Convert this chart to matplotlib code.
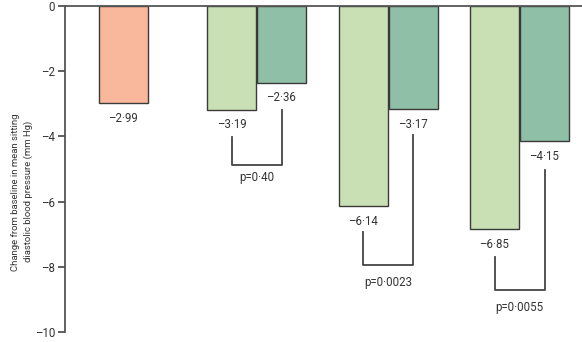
import matplotlib.pyplot as plt

# values (mm Hg)
ref_value = -2.99
low_values = [-3.19, -6.14, -6.85]
high_values = [-2.36, -3.17, -4.15]
p_labels = ["p=0·40", "p=0·0023", "p=0·0055"]
# bracket geometry (y levels in data units)
left_tops = [-4.02, -6.93, -7.70]
right_tops = [-3.19, -3.96, -5.03]
bracket_bottoms = [-4.88, -7.94, -8.71]
p_label_y = [-5.25, -8.47, -9.26]
yticks = [0, -2, -4, -6, -8, -10]


def fmt(v):
    return "\u2013" + ("%.2f" % abs(v)).replace(".", "\u00b7")


plt.rcParams['font.family'] = ['Roboto', 'DejaVu Sans']

fig = plt.figure(figsize=(5.82, 3.42), dpi=100)
ax = fig.add_axes([65 / 582, 10 / 342, 517 / 582, 326 / 342])

w = 0.98
salmon = "#f9b89b"
light = "#c9e0b4"
dark = "#8fbfa6"
edge = "#3a3a3a"
ref_x = 1.16
groups = [3.83, 6.46, 9.09]
fs = 8.3

ax.bar(ref_x, ref_value, width=w, color=salmon, edgecolor=edge, linewidth=1)
ax.text(ref_x, ref_value - 0.46, fmt(ref_value), ha="center", va="center", fontsize=fs, color="#333")

for i, g in enumerate(groups):
    xl = g - w / 2 - 0.01
    xr = g + w / 2 + 0.01
    ax.bar(xl, low_values[i], width=w, color=light, edgecolor=edge, linewidth=1)
    ax.bar(xr, high_values[i], width=w, color=dark, edgecolor=edge, linewidth=1)
    ax.text(xl, low_values[i] - 0.46, fmt(low_values[i]), ha="center", va="center", fontsize=fs, color="#333")
    ax.text(xr, high_values[i] - 0.46, fmt(high_values[i]), ha="center", va="center", fontsize=fs, color="#333")
    ax.plot([xl, xl, xr, xr], [left_tops[i], bracket_bottoms[i], bracket_bottoms[i], right_tops[i]],
            color="#444", linewidth=1.3)
    ax.text(g, p_label_y[i], p_labels[i], ha="center", va="center", fontsize=fs, color="#333")

ax.set_xlim(0, 10.34)
ax.set_ylim(-10, 0)
ax.set_yticks(yticks)
ax.set_yticklabels(["0" if t == 0 else "\u2013%d" % abs(t) for t in yticks], fontsize=fs, color="#333")
ax.set_xticks([])
ax.tick_params(axis="y", direction="out", length=5, width=1.2, color="#444", pad=2)
for s in ["right", "bottom"]:
    ax.spines[s].set_visible(False)
for s in ["left", "top"]:
    ax.spines[s].set_color("#555")
    ax.spines[s].set_linewidth(1.3)
ax.set_ylabel("Change from baseline in mean sitting\ndiastolic blood pressure (mm Hg)", fontsize=6.8, color="#333",
              linespacing=1.5)
ax.yaxis.set_label_coords(-0.062, 0.43)

fig.savefig("out.png", dpi=100)
